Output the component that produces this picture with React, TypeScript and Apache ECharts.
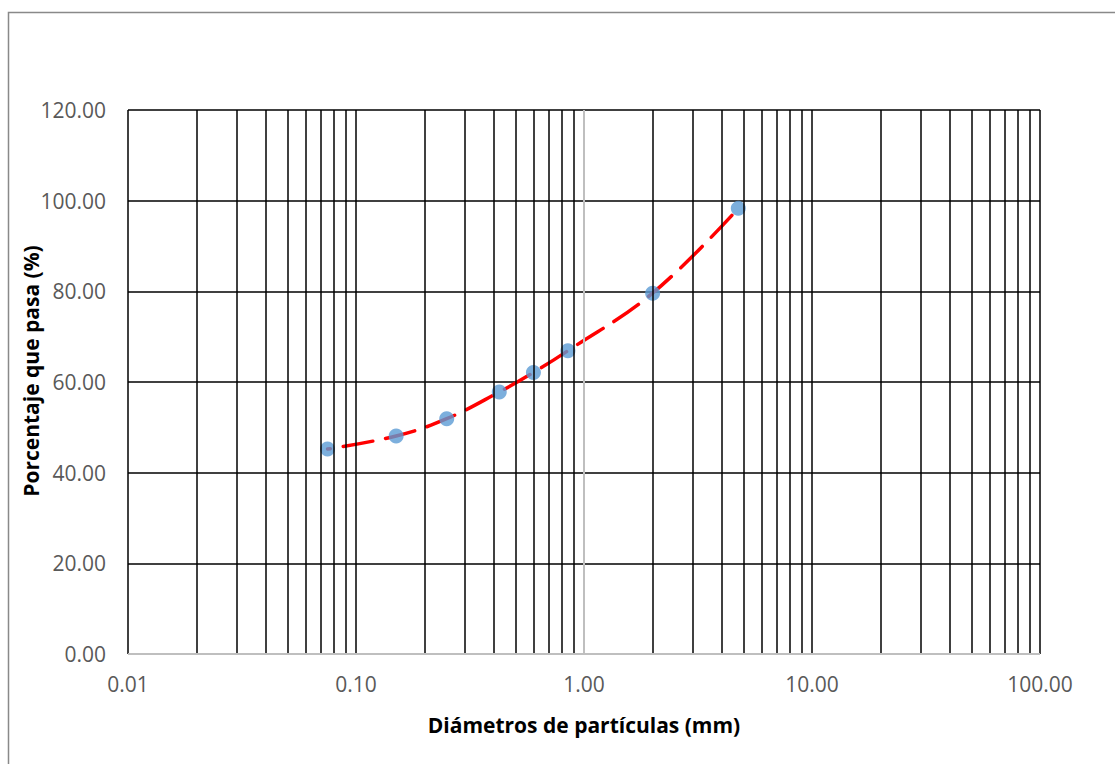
import React, { useEffect, useRef } from "react";
import * as echarts from "echarts";

// Sieve sizes (mm) and percent passing
const diameters = [0.075, 0.15, 0.25, 0.425, 0.6, 0.85, 2.0, 4.75];
const passing = [45.2, 48.1, 51.9, 57.8, 62.1, 66.9, 79.6, 98.3];

// Axis ranges / ticks
const xMin = 0.01;
const xMax = 100;
const yTicks = [0, 20, 40, 60, 80, 100, 120];

// Vertical log grid lines (major and minor)
const logGridLines = [
  0.01, 0.02, 0.03, 0.04, 0.05, 0.06, 0.07, 0.08, 0.09,
  0.1, 0.2, 0.3, 0.4, 0.5, 0.6, 0.7, 0.8, 0.9,
  1, 2, 3, 4, 5, 6, 7, 8, 9,
  10, 20, 30, 40, 50, 60, 70, 80, 90,
  100,
];
const yAxisCross = 1;

const xTitle = "Diámetros de partículas (mm)";
const yTitle = "Porcentaje que pasa (%)";

const FONT = "'Open Sans', 'DejaVu Sans', sans-serif";

export default function App() {
  const ref = useRef<HTMLDivElement>(null);

  useEffect(() => {
    document.body.style.margin = "0";
    if (!ref.current) return;
    const chart = echarts.init(ref.current, undefined, { renderer: "svg" });
    const points = diameters.map((d, i) => [d, passing[i]]);

    chart.setOption({
      animation: false,
      backgroundColor: "#ffffff",
      grid: { left: 128, right: 75, top: 110, bottom: 110 },
      graphic: [
        {
          type: "rect",
          shape: { x: 8.5, y: 12.5, width: 1300, height: 900 },
          style: { fill: "none", stroke: "#898989", lineWidth: 1.5 },
          silent: true,
          z: 0,
        },
        {
          type: "text",
          x: 31,
          y: 371,
          rotation: Math.PI / 2,
          silent: true,
          style: {
            text: yTitle,
            fill: "#000000",
            font: `bold 21px ${FONT}`,
            textAlign: "center",
            textVerticalAlign: "middle",
          },
        },
      ],
      xAxis: {
        type: "log",
        logBase: 10,
        min: xMin,
        max: xMax,
        axisLine: { show: false },
        axisTick: { show: false },
        splitLine: { show: false },
        minorSplitLine: { show: false },
        axisLabel: {
          color: "#595959",
          fontFamily: FONT,
          fontSize: 21,
          margin: 19,
          formatter: (v: number) => v.toFixed(2),
        },
        name: xTitle,
        nameLocation: "middle",
        nameGap: 60,
        nameTextStyle: {
          color: "#000000",
          fontFamily: FONT,
          fontSize: 21,
          fontWeight: "bold",
        },
      },
      yAxis: {
        type: "value",
        min: yTicks[0],
        max: yTicks[yTicks.length - 1],
        interval: 20,
        axisLine: { show: false },
        axisTick: { show: false },
        splitLine: { show: true, lineStyle: { color: "#000000", width: 1.5 } },
        axisLabel: {
          color: "#595959",
          fontFamily: FONT,
          fontSize: 21,
          margin: 22,
          formatter: (v: number) => v.toFixed(2),
        },
      },
      series: [
        {
          type: "line",
          data: [],
          z: 1,
          silent: true,
          markLine: {
            silent: true,
            symbol: "none",
            label: { show: false },
            lineStyle: { color: "#000000", width: 1.5, type: "solid" },
            data: logGridLines.map((v) => ({ xAxis: v })),
          },
        },
        {
          type: "line",
          data: [],
          z: 2,
          silent: true,
          markLine: {
            silent: true,
            symbol: "none",
            label: { show: false },
            lineStyle: { color: "#BFBFBF", width: 2, type: "solid" },
            data: [{ xAxis: yAxisCross }, { yAxis: yTicks[0] }],
          },
        },
        {
          type: "line",
          data: points,
          z: 3,
          smooth: 0.4,
          showSymbol: false,
          symbol: "none",
          lineStyle: {
            color: "#FF0000",
            width: 3.5,
            type: [30, 13],
            dashOffset: 27,
            cap: "round",
          },
        },
        {
          type: "scatter",
          data: points,
          z: 4,
          symbol: "circle",
          symbolSize: 15,
          itemStyle: { color: "#5B9BD5" },
        },
      ],
    });

    return () => chart.dispose();
  }, []);

  return <div ref={ref} style={{ width: 1115, height: 764 }} />;
}
